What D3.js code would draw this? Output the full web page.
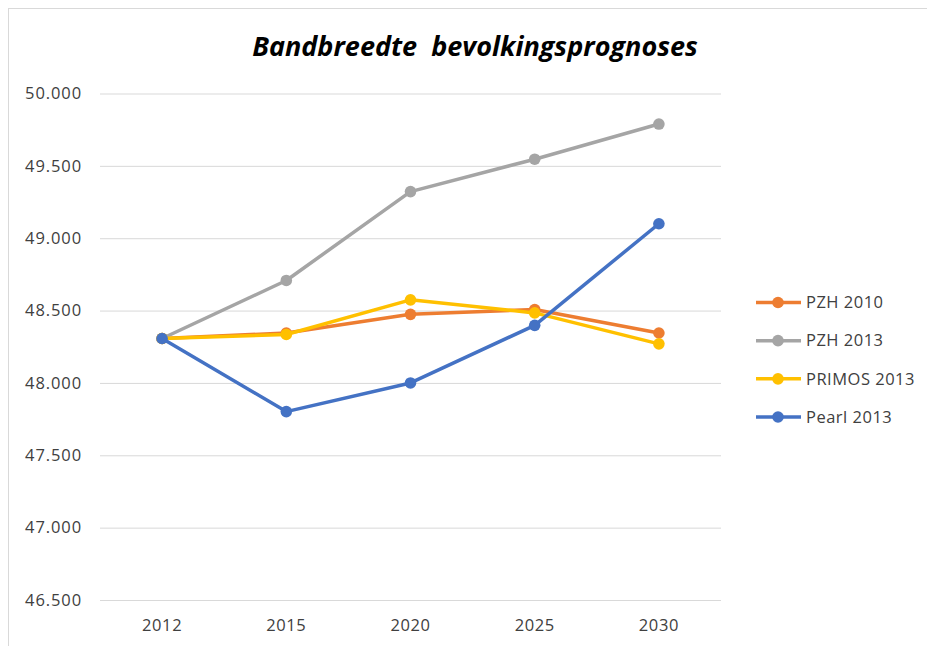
<!DOCTYPE html>
<html>
<head>
<meta charset="utf-8">
<script src="https://cdn.jsdelivr.net/npm/d3@7"></script>
<style>
  body { margin: 0; background: #fff; }
  svg { display: block; font-family: "Open Sans", sans-serif; }
</style>
</head>
<body>
<div id="chart"></div>
<script>
// chart values
const years = ['2012', '2015', '2020', '2025', '2030'];
const seriesNames = ['PZH 2010', 'PZH 2013', 'PRIMOS 2013', 'Pearl 2013'];
const pzh2010 = [48307, 48345, 48474, 48507, 48345];
const pzh2013 = [48307, 48708, 49322, 49546, 49789];
const primos2013 = [48307, 48335, 48574, 48484, 48270];
const pearl2013 = [48307, 47802, 48000, 48398, 49100];
const yTicks = [46500, 47000, 47500, 48000, 48500, 49000, 49500, 50000];
const colors = ['#ED7D31', '#A5A5A5', '#FFC000', '#4472C4'];

const series = seriesNames.map((name, i) => ({
  name,
  color: colors[i],
  values: [pzh2010, pzh2013, primos2013, pearl2013][i]
}));

const width = 927;
const height = 646;
const labelColor = '#404040';

const svg = d3.select('#chart')
  .append('svg')
  .attr('width', width)
  .attr('height', height);

// outer frame
svg.append('rect')
  .attr('x', 8.5).attr('y', 8.5)
  .attr('width', 930).attr('height', 660)
  .attr('fill', 'none')
  .attr('stroke', '#d9d9d9');

const xScale = d3.scaleBand()
  .domain(years)
  .range([100, 721]);

const yScale = d3.scaleLinear()
  .domain([46500, 50000])
  .range([600, 93.5]);

const fmt = (d) => d3.format(',.0f')(d).replace(/,/g, '.');

// gridlines
svg.append('g')
  .attr('class', 'gridlines')
  .attr('transform', 'translate(100, 0)')
  .call(d3.axisLeft(yScale).tickValues(yTicks).tickFormat('').tickSize(-621))
  .call((g) => g.select('.domain').remove())
  .call((g) => g.selectAll('line').attr('stroke', '#d9d9d9').attr('stroke-width', 1));

// y axis labels
svg.append('g')
  .attr('transform', 'translate(100, 0)')
  .call(d3.axisLeft(yScale).tickValues(yTicks).tickFormat(fmt).tickSize(0).tickPadding(18))
  .call((g) => g.select('.domain').remove())
  .call((g) => g.selectAll('text')
    .attr('font-size', 16.5)
    .attr('letter-spacing', 0.9)
    .attr('font-family', '"Open Sans", sans-serif')
    .attr('fill', labelColor));

// x axis labels
svg.append('g')
  .attr('transform', 'translate(0, 600)')
  .call(d3.axisBottom(xScale).tickSize(0).tickPadding(19))
  .call((g) => g.select('.domain').remove())
  .call((g) => g.selectAll('text')
    .attr('font-size', 16.5)
    .attr('letter-spacing', 0.6)
    .attr('font-family', '"Open Sans", sans-serif')
    .attr('fill', labelColor));

const cx = (i) => xScale(years[i]) + xScale.bandwidth() / 2;

const line = d3.line()
  .x((d, i) => cx(i))
  .y((d) => yScale(d));

const lines = svg.append('g').attr('class', 'series');

series.forEach((s) => {
  const g = lines.append('g');
  g.append('path')
    .datum(s.values)
    .attr('d', line)
    .attr('fill', 'none')
    .attr('stroke', s.color)
    .attr('stroke-width', 3.5)
    .attr('stroke-linejoin', 'round');
  g.selectAll('circle')
    .data(s.values)
    .join('circle')
    .attr('cx', (d, i) => cx(i))
    .attr('cy', (d) => yScale(d))
    .attr('r', 5.8)
    .attr('fill', s.color);
});

// title
const title = svg.append('text')
  .attr('x', 475)
  .attr('y', 56)
  .attr('text-anchor', 'middle')
  .attr('font-size', 25)
  .attr('font-weight', 'bold')
  .attr('font-style', 'italic')
  .attr('font-family', '"Open Sans", sans-serif')
  .attr('fill', '#000')
  .style('white-space', 'pre')
  .text('Bandbreedte  bevolkingsprognoses');

// fit the title to the reference width (~446px)
const tw = title.node().getComputedTextLength();
if (tw > 0) title.attr('font-size', 25 * 446 / tw);

// legend
const legend = svg.append('g').attr('class', 'legend');
const legendY = d3.scalePoint().domain(seriesNames).range([302.5, 417]);

series.forEach((s) => {
  const y = legendY(s.name);
  legend.append('line')
    .attr('x1', 756).attr('x2', 801)
    .attr('y1', y).attr('y2', y)
    .attr('stroke', s.color)
    .attr('stroke-width', 3.5);
  legend.append('circle')
    .attr('cx', 778).attr('cy', y)
    .attr('r', 5.8)
    .attr('fill', s.color);
  legend.append('text')
    .attr('x', 806).attr('y', y)
    .attr('dy', '0.35em')
    .attr('font-size', 16.5)
    .attr('letter-spacing', 0.5)
    .attr('fill', labelColor)
    .text(s.name);
});
</script>
</body>
</html>
